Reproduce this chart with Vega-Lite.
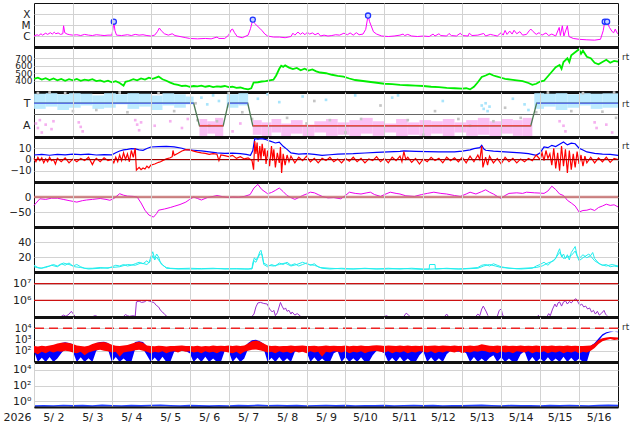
{
  "$schema": "https://vega.github.io/schema/vega-lite/v6.json",
  "description": "Space weather summary, 2026-05-02 to 2026-05-16",
  "padding": {"left": 2, "top": 2, "right": 0, "bottom": 0},
  "background": "white",
  "config": {
    "view": {"stroke": "#111", "strokeWidth": 1},
    "axis": {"gridColor": "#d2d2d2", "labelFont": "DejaVu Sans", "labelColor": "#222", "titleFont": "DejaVu Sans", "titleColor": "#222", "labelFontSize": 10, "labelOverlap": false}
  },
  "datasets": {
    "xray": [
      {"t":0.00,"v":1.0e-6},{"t":0.08,"v":1.3e-6},{"t":0.12,"v":1.1e-6},{"t":0.18,"v":1.6e-6},{"t":0.22,"v":1.2e-6},{"t":0.30,"v":1.8e-6},{"t":0.35,"v":1.4e-6},{"t":0.42,"v":2.0e-6},{"t":0.47,"v":1.5e-6},{"t":0.52,"v":2.2e-6},{"t":0.56,"v":1.6e-6},{"t":0.62,"v":1.9e-6},{"t":0.68,"v":1.4e-6},{"t":0.74,"v":1.6e-6},{"t":0.76,"v":8.5e-6},{"t":0.79,"v":2.0e-6},{"t":0.85,"v":1.5e-6},{"t":0.92,"v":1.3e-6},{"t":1.00,"v":1.2e-6},{"t":1.10,"v":1.3e-6},{"t":1.20,"v":1.1e-6},{"t":1.30,"v":1.4e-6},{"t":1.40,"v":1.2e-6},{"t":1.50,"v":1.1e-6},{"t":1.60,"v":1.3e-6},{"t":1.70,"v":1.2e-6},{"t":1.80,"v":1.1e-6},{"t":1.90,"v":1.2e-6},{"t":2.00,"v":1.2e-6},{"t":2.03,"v":5.0e-6},{"t":2.05,"v":2.0e-5},{"t":2.08,"v":3.0e-6},{"t":2.12,"v":1.2e-6},{"t":2.25,"v":1.1e-6},{"t":2.40,"v":1.3e-6},{"t":2.50,"v":1.1e-6},{"t":2.60,"v":1.4e-6},{"t":2.70,"v":1.2e-6},{"t":2.80,"v":1.3e-6},{"t":2.90,"v":1.1e-6},{"t":3.00,"v":1.0e-6},{"t":3.10,"v":1.2e-6},{"t":3.17,"v":2.5e-6},{"t":3.22,"v":5.3e-6},{"t":3.27,"v":3.0e-6},{"t":3.35,"v":1.6e-6},{"t":3.45,"v":1.2e-6},{"t":3.55,"v":1.6e-6},{"t":3.62,"v":1.1e-6},{"t":3.75,"v":9e-7},{"t":3.90,"v":7e-7},{"t":4.00,"v":6e-7},{"t":4.20,"v":5.5e-7},{"t":4.40,"v":6e-7},{"t":4.55,"v":5.5e-7},{"t":4.70,"v":8e-7},{"t":4.75,"v":6e-7},{"t":4.90,"v":6e-7},{"t":5.00,"v":1.2e-6},{"t":5.06,"v":3.5e-6},{"t":5.10,"v":4.3e-6},{"t":5.15,"v":2.0e-6},{"t":5.22,"v":9e-7},{"t":5.35,"v":7e-7},{"t":5.50,"v":1.2e-6},{"t":5.56,"v":4.6e-6},{"t":5.62,"v":3.1e-5},{"t":5.66,"v":1.5e-5},{"t":5.73,"v":8.5e-6},{"t":5.80,"v":5e-6},{"t":5.86,"v":3.0e-6},{"t":5.93,"v":1.5e-6},{"t":6.00,"v":1.0e-6},{"t":6.15,"v":8e-7},{"t":6.30,"v":8e-7},{"t":6.45,"v":7e-7},{"t":6.60,"v":9e-7},{"t":6.65,"v":1.8e-6},{"t":6.70,"v":1.2e-6},{"t":6.78,"v":2.3e-6},{"t":6.84,"v":1.4e-6},{"t":6.90,"v":2.0e-6},{"t":6.96,"v":1.3e-6},{"t":7.02,"v":2.2e-6},{"t":7.08,"v":1.5e-6},{"t":7.15,"v":1.9e-6},{"t":7.22,"v":1.3e-6},{"t":7.30,"v":1.8e-6},{"t":7.36,"v":1.0e-6},{"t":7.45,"v":1.2e-6},{"t":7.55,"v":1.0e-6},{"t":7.65,"v":1.1e-6},{"t":7.75,"v":1.3e-6},{"t":7.85,"v":1.2e-6},{"t":7.96,"v":1.8e-6},{"t":8.05,"v":1.3e-6},{"t":8.12,"v":1.9e-6},{"t":8.20,"v":1.2e-6},{"t":8.28,"v":2.0e-6},{"t":8.35,"v":1.3e-6},{"t":8.45,"v":1.5e-6},{"t":8.52,"v":4.0e-6},{"t":8.58,"v":7.2e-5},{"t":8.62,"v":2.0e-5},{"t":8.66,"v":8.5e-6},{"t":8.72,"v":2.4e-6},{"t":8.80,"v":1.5e-6},{"t":8.93,"v":1.0e-6},{"t":9.10,"v":9e-7},{"t":9.25,"v":1.0e-6},{"t":9.40,"v":1.2e-6},{"t":9.48,"v":1.5e-6},{"t":9.52,"v":1.1e-6},{"t":9.60,"v":1.4e-6},{"t":9.70,"v":1.0e-6},{"t":9.85,"v":9e-7},{"t":10.00,"v":1.0e-6},{"t":10.15,"v":9e-7},{"t":10.25,"v":1.5e-6},{"t":10.30,"v":1.0e-6},{"t":10.40,"v":1.6e-6},{"t":10.45,"v":1.1e-6},{"t":10.60,"v":1.0e-6},{"t":10.66,"v":1.7e-6},{"t":10.72,"v":1.1e-6},{"t":10.85,"v":1.0e-6},{"t":10.95,"v":1.8e-6},{"t":11.00,"v":1.1e-6},{"t":11.15,"v":1.0e-6},{"t":11.18,"v":1.8e-6},{"t":11.25,"v":1.1e-6},{"t":11.40,"v":1.2e-6},{"t":11.55,"v":1.7e-6},{"t":11.60,"v":1.0e-6},{"t":11.72,"v":1.4e-6},{"t":11.80,"v":1.2e-6},{"t":11.90,"v":1.0e-6},{"t":12.00,"v":2.0e-6},{"t":12.05,"v":1.2e-6},{"t":12.10,"v":3.2e-6},{"t":12.15,"v":1.4e-6},{"t":12.22,"v":2.8e-6},{"t":12.28,"v":1.5e-6},{"t":12.33,"v":3.3e-6},{"t":12.40,"v":1.6e-6},{"t":12.48,"v":2.5e-6},{"t":12.55,"v":1.2e-6},{"t":12.65,"v":1.4e-6},{"t":12.72,"v":3.0e-6},{"t":12.76,"v":4.3e-6},{"t":12.82,"v":2.5e-6},{"t":12.90,"v":1.4e-6},{"t":12.97,"v":2.0e-6},{"t":13.05,"v":1.2e-6},{"t":13.15,"v":1.9e-6},{"t":13.22,"v":1.1e-6},{"t":13.30,"v":1.5e-6},{"t":13.40,"v":1.0e-6},{"t":13.49,"v":6.0e-6},{"t":13.52,"v":1.1e-6},{"t":13.57,"v":8.5e-6},{"t":13.61,"v":1.0e-6},{"t":13.70,"v":8.5e-6},{"t":13.74,"v":9e-7},{"t":13.85,"v":6e-7},{"t":14.00,"v":5e-7},{"t":14.20,"v":4.5e-7},{"t":14.40,"v":4.2e-7},{"t":14.55,"v":5e-7},{"t":14.62,"v":3e-6},{"t":14.66,"v":2.0e-5},{"t":14.70,"v":1.5e-5},{"t":14.72,"v":2.0e-5},{"t":14.78,"v":6e-6},{"t":14.85,"v":2.5e-6},{"t":14.89,"v":2.0e-6},{"t":14.93,"v":4.3e-6},{"t":14.97,"v":2.0e-6},{"t":15.00,"v":1.6e-6}
    ],
    "flares": [{"t":2.05,"v":2.0e-5},{"t":5.62,"v":3.1e-5},{"t":8.58,"v":7.2e-5},{"t":14.66,"v":2.0e-5},{"t":14.72,"v":2.0e-5}],
    "speed": [
      {"t":0.0,"v":425},{"t":0.1,"v":440},{"t":0.2,"v":415},{"t":0.3,"v":435},{"t":0.4,"v":410},{"t":0.5,"v":430},{"t":0.6,"v":405},{"t":0.7,"v":425},{"t":0.8,"v":400},{"t":0.9,"v":420},{"t":1.0,"v":405},{"t":1.1,"v":425},{"t":1.2,"v":400},{"t":1.3,"v":415},{"t":1.4,"v":405},{"t":1.5,"v":420},{"t":1.6,"v":395},{"t":1.7,"v":405},{"t":1.8,"v":385},{"t":1.9,"v":400},{"t":2.0,"v":380},{"t":2.1,"v":395},{"t":2.2,"v":370},{"t":2.3,"v":335},{"t":2.35,"v":385},{"t":2.45,"v":400},{"t":2.55,"v":420},{"t":2.65,"v":405},{"t":2.75,"v":430},{"t":2.85,"v":415},{"t":2.95,"v":440},{"t":3.05,"v":425},{"t":3.15,"v":445},{"t":3.2,"v":455},{"t":3.3,"v":420},{"t":3.4,"v":400},{"t":3.5,"v":375},{"t":3.6,"v":355},{"t":3.7,"v":345},{"t":3.8,"v":330},{"t":3.9,"v":335},{"t":4.0,"v":320},{"t":4.1,"v":330},{"t":4.2,"v":325},{"t":4.3,"v":335},{"t":4.4,"v":320},{"t":4.5,"v":330},{"t":4.6,"v":315},{"t":4.7,"v":325},{"t":4.8,"v":320},{"t":4.9,"v":330},{"t":5.0,"v":315},{"t":5.1,"v":320},{"t":5.2,"v":305},{"t":5.3,"v":310},{"t":5.4,"v":295},{"t":5.5,"v":285},{"t":5.58,"v":300},{"t":5.64,"v":375},{"t":5.75,"v":380},{"t":5.85,"v":390},{"t":5.95,"v":395},{"t":6.05,"v":405},{"t":6.15,"v":415},{"t":6.22,"v":470},{"t":6.3,"v":560},{"t":6.35,"v":600},{"t":6.4,"v":585},{"t":6.45,"v":605},{"t":6.55,"v":575},{"t":6.65,"v":555},{"t":6.75,"v":570},{"t":6.85,"v":540},{"t":6.95,"v":560},{"t":7.05,"v":535},{"t":7.15,"v":550},{"t":7.25,"v":525},{"t":7.35,"v":510},{"t":7.5,"v":500},{"t":7.65,"v":480},{"t":7.8,"v":465},{"t":7.95,"v":455},{"t":8.1,"v":430},{"t":8.25,"v":410},{"t":8.4,"v":400},{"t":8.55,"v":390},{"t":8.7,"v":380},{"t":8.85,"v":370},{"t":9.0,"v":360},{"t":9.2,"v":355},{"t":9.4,"v":345},{"t":9.6,"v":340},{"t":9.8,"v":335},{"t":10.0,"v":330},{"t":10.2,"v":320},{"t":10.4,"v":315},{"t":10.6,"v":305},{"t":10.8,"v":300},{"t":11.0,"v":295},{"t":11.1,"v":300},{"t":11.2,"v":285},{"t":11.3,"v":320},{"t":11.4,"v":380},{"t":11.5,"v":450},{"t":11.6,"v":470},{"t":11.7,"v":495},{"t":11.8,"v":470},{"t":11.9,"v":455},{"t":12.0,"v":440},{"t":12.1,"v":425},{"t":12.25,"v":415},{"t":12.4,"v":405},{"t":12.55,"v":395},{"t":12.7,"v":370},{"t":12.8,"v":345},{"t":12.9,"v":360},{"t":13.0,"v":390},{"t":13.1,"v":400},{"t":13.2,"v":460},{"t":13.3,"v":520},{"t":13.4,"v":580},{"t":13.5,"v":610},{"t":13.55,"v":560},{"t":13.6,"v":650},{"t":13.7,"v":700},{"t":13.75,"v":650},{"t":13.8,"v":740},{"t":13.9,"v":780},{"t":14.0,"v":820},{"t":14.05,"v":760},{"t":14.1,"v":800},{"t":14.2,"v":720},{"t":14.3,"v":700},{"t":14.4,"v":640},{"t":14.5,"v":620},{"t":14.6,"v":650},{"t":14.7,"v":680},{"t":14.8,"v":640},{"t":14.9,"v":665},{"t":15.0,"v":655}
    ],
    "sector": [{"t":0,"v":1},{"t":4.1,"v":1},{"t":4.25,"v":-1},{"t":4.86,"v":-1},{"t":4.99,"v":1},{"t":5.49,"v":1},{"t":5.62,"v":-1},{"t":12.76,"v":-1},{"t":12.91,"v":1},{"t":15,"v":1}],
    "sectorSeg": [
      {"t":0,"v":1,"g":1,"c":"T"},{"t":4.1,"v":1,"g":1,"c":"T"},{"t":4.25,"v":-1,"g":2,"c":"A"},{"t":4.86,"v":-1,"g":2,"c":"A"},{"t":4.99,"v":1,"g":3,"c":"T"},{"t":5.49,"v":1,"g":3,"c":"T"},{"t":5.62,"v":-1,"g":4,"c":"A"},{"t":12.76,"v":-1,"g":4,"c":"A"},{"t":12.91,"v":1,"g":5,"c":"T"},{"t":15,"v":1,"g":5,"c":"T"}
    ],
    "taBands": [
      {"t":0.0,"t2":0.3,"lo":0.5,"hi":1.85,"c":"T"},{"t":0.3,"t2":0.6,"lo":0.7,"hi":1.9,"c":"T"},{"t":0.6,"t2":0.9,"lo":0.4,"hi":1.8,"c":"T"},{"t":0.9,"t2":1.2,"lo":0.6,"hi":1.9,"c":"T"},{"t":1.2,"t2":1.5,"lo":0.8,"hi":1.85,"c":"T"},{"t":1.5,"t2":1.8,"lo":0.5,"hi":1.7,"c":"T"},{"t":1.8,"t2":2.1,"lo":0.6,"hi":1.9,"c":"T"},{"t":2.1,"t2":2.4,"lo":0.9,"hi":1.8,"c":"T"},{"t":2.4,"t2":2.7,"lo":0.5,"hi":1.9,"c":"T"},{"t":2.7,"t2":3.0,"lo":0.7,"hi":1.85,"c":"T"},{"t":3.0,"t2":3.3,"lo":0.4,"hi":1.7,"c":"T"},{"t":3.3,"t2":3.6,"lo":0.8,"hi":1.9,"c":"T"},{"t":3.6,"t2":3.9,"lo":0.6,"hi":1.8,"c":"T"},{"t":3.9,"t2":4.1,"lo":0.9,"hi":1.6,"c":"T"},{"t":4.95,"t2":5.25,"lo":0.6,"hi":1.8,"c":"T"},{"t":5.25,"t2":5.5,"lo":0.8,"hi":1.9,"c":"T"},{"t":12.85,"t2":13.1,"lo":0.5,"hi":1.9,"c":"T"},{"t":13.1,"t2":13.4,"lo":0.7,"hi":1.85,"c":"T"},{"t":13.4,"t2":13.7,"lo":0.4,"hi":1.9,"c":"T"},{"t":13.7,"t2":14.0,"lo":0.6,"hi":1.8,"c":"T"},{"t":14.0,"t2":14.3,"lo":0.8,"hi":1.9,"c":"T"},{"t":14.3,"t2":14.6,"lo":0.5,"hi":1.85,"c":"T"},{"t":14.6,"t2":15.0,"lo":0.6,"hi":1.9,"c":"T"},
      {"t":4.25,"t2":4.45,"lo":-1.9,"hi":-0.4,"c":"A"},{"t":4.45,"t2":4.65,"lo":-1.7,"hi":-0.6,"c":"A"},{"t":4.65,"t2":4.86,"lo":-1.95,"hi":-0.3,"c":"A"},{"t":5.62,"t2":5.85,"lo":-1.8,"hi":-0.5,"c":"A"},{"t":5.85,"t2":6.1,"lo":-1.95,"hi":-0.7,"c":"A"},{"t":6.1,"t2":6.35,"lo":-1.6,"hi":-0.4,"c":"A"},{"t":6.35,"t2":6.6,"lo":-1.9,"hi":-0.8,"c":"A"},{"t":6.6,"t2":6.9,"lo":-1.7,"hi":-0.5,"c":"A"},{"t":6.9,"t2":7.2,"lo":-1.95,"hi":-0.9,"c":"A"},{"t":7.2,"t2":7.5,"lo":-1.6,"hi":-0.6,"c":"A"},{"t":7.5,"t2":7.8,"lo":-1.9,"hi":-0.4,"c":"A"},{"t":7.8,"t2":8.1,"lo":-1.8,"hi":-0.7,"c":"A"},{"t":8.1,"t2":8.4,"lo":-1.95,"hi":-0.5,"c":"A"},{"t":8.4,"t2":8.7,"lo":-1.7,"hi":-0.3,"c":"A"},{"t":8.7,"t2":9.0,"lo":-1.9,"hi":-0.6,"c":"A"},{"t":9.0,"t2":9.3,"lo":-1.6,"hi":-0.8,"c":"A"},{"t":9.3,"t2":9.6,"lo":-1.95,"hi":-0.4,"c":"A"},{"t":9.6,"t2":9.9,"lo":-1.8,"hi":-0.7,"c":"A"},{"t":9.9,"t2":10.2,"lo":-1.9,"hi":-0.5,"c":"A"},{"t":10.2,"t2":10.5,"lo":-1.7,"hi":-0.6,"c":"A"},{"t":10.5,"t2":10.8,"lo":-1.95,"hi":-0.4,"c":"A"},{"t":10.8,"t2":11.1,"lo":-1.6,"hi":-0.7,"c":"A"},{"t":11.1,"t2":11.4,"lo":-1.9,"hi":-0.5,"c":"A"},{"t":11.4,"t2":11.7,"lo":-1.8,"hi":-0.3,"c":"A"},{"t":11.7,"t2":12.0,"lo":-1.95,"hi":-0.6,"c":"A"},{"t":12.0,"t2":12.3,"lo":-1.7,"hi":-0.4,"c":"A"},{"t":12.3,"t2":12.55,"lo":-1.9,"hi":-0.5,"c":"A"},{"t":12.55,"t2":12.8,"lo":-1.95,"hi":-0.3,"c":"A"}
    ],
    "taPts": [
      {"t":0.05,"v":-0.8,"c":"A"},{"t":0.1,"v":-1.2,"c":"A"},{"t":0.15,"v":-0.5,"c":"A"},{"t":0.2,"v":-1.6,"c":"A"},{"t":0.3,"v":-0.9,"c":"A"},{"t":0.45,"v":-1.3,"c":"A"},{"t":0.5,"v":-0.6,"c":"A"},{"t":1.15,"v":-0.7,"c":"A"},{"t":1.2,"v":-1.1,"c":"A"},{"t":1.25,"v":-1.5,"c":"A"},{"t":2.6,"v":-0.5,"c":"A"},{"t":2.65,"v":-0.9,"c":"A"},{"t":2.7,"v":-1.4,"c":"A"},{"t":2.75,"v":-0.7,"c":"A"},{"t":3.1,"v":-1.0,"c":"A"},{"t":3.5,"v":-0.6,"c":"A"},{"t":3.8,"v":-1.2,"c":"A"},{"t":3.95,"v":-0.4,"c":"A"},{"t":5.1,"v":-1.5,"c":"A"},{"t":5.3,"v":-0.8,"c":"A"},{"t":13.5,"v":-0.6,"c":"A"},{"t":13.6,"v":-1.0,"c":"A"},{"t":13.65,"v":-1.5,"c":"A"},{"t":14.4,"v":-0.7,"c":"A"},{"t":14.45,"v":-1.2,"c":"A"},{"t":14.7,"v":-0.9,"c":"A"},{"t":14.85,"v":-1.6,"c":"A"},
      {"t":4.3,"v":1.5,"c":"T"},{"t":4.45,"v":0.9,"c":"T"},{"t":4.6,"v":1.7,"c":"T"},{"t":4.75,"v":1.2,"c":"T"},{"t":5.75,"v":1.4,"c":"T"},{"t":6.0,"v":1.8,"c":"T"},{"t":6.3,"v":1.1,"c":"T"},{"t":6.9,"v":1.6,"c":"T"},{"t":7.5,"v":1.3,"c":"T"},{"t":8.25,"v":1.7,"c":"T"},{"t":9.2,"v":1.5,"c":"T"},{"t":9.35,"v":1.7,"c":"T"},{"t":10.5,"v":1.2,"c":"T"},{"t":11.5,"v":0.8,"c":"T"},{"t":11.55,"v":0.5,"c":"T"},{"t":11.6,"v":1.0,"c":"T"},{"t":11.65,"v":0.3,"c":"T"},{"t":11.7,"v":0.7,"c":"T"},{"t":12.3,"v":1.4,"c":"T"},{"t":12.6,"v":0.9,"c":"T"},{"t":12.7,"v":0.4,"c":"T"},
      {"t":0.1,"v":1.9,"c":"G"},{"t":0.4,"v":1.95,"c":"G"},{"t":0.8,"v":1.9,"c":"G"},{"t":1.0,"v":0.3,"c":"G"},{"t":1.6,"v":0.4,"c":"G"},{"t":2.2,"v":1.95,"c":"G"},{"t":2.4,"v":0.2,"c":"G"},{"t":3.2,"v":1.9,"c":"G"},{"t":3.6,"v":0.3,"c":"G"},{"t":4.15,"v":1.0,"c":"G"},{"t":4.2,"v":-0.5,"c":"G"},{"t":4.5,"v":-1.0,"c":"G"},{"t":4.7,"v":-0.6,"c":"G"},{"t":5.0,"v":1.9,"c":"G"},{"t":5.35,"v":0.2,"c":"G"},{"t":5.6,"v":-0.4,"c":"G"},{"t":6.5,"v":-0.3,"c":"G"},{"t":7.0,"v":-0.8,"c":"G"},{"t":7.2,"v":1.2,"c":"G"},{"t":7.6,"v":-0.5,"c":"G"},{"t":8.0,"v":-1.6,"c":"G"},{"t":8.4,"v":-0.4,"c":"G"},{"t":8.9,"v":0.8,"c":"G"},{"t":9.6,"v":-0.5,"c":"G"},{"t":10.0,"v":-1.8,"c":"G"},{"t":10.3,"v":0.3,"c":"G"},{"t":10.9,"v":-0.4,"c":"G"},{"t":11.2,"v":-1.0,"c":"G"},{"t":11.8,"v":-0.6,"c":"G"},{"t":12.1,"v":0.6,"c":"G"},{"t":12.5,"v":-0.3,"c":"G"},{"t":12.9,"v":0.2,"c":"G"},{"t":13.2,"v":1.95,"c":"G"},{"t":13.8,"v":0.3,"c":"G"},{"t":14.1,"v":1.9,"c":"G"},{"t":14.6,"v":0.25,"c":"G"},{"t":14.9,"v":1.95,"c":"G"},{"t":14.95,"v":-0.3,"c":"G"}
    ],
    "bt": [
      {"t":0.0,"v":4},{"t":0.2,"v":4.5},{"t":0.4,"v":3.8},{"t":0.6,"v":4.6},{"t":0.8,"v":4.2},{"t":1.0,"v":4.8},{"t":1.2,"v":4.3},{"t":1.4,"v":4.7},{"t":1.6,"v":4.0},{"t":1.8,"v":4.4},{"t":2.0,"v":4.2},{"t":2.1,"v":6},{"t":2.2,"v":7.6},{"t":2.3,"v":8.5},{"t":2.4,"v":9},{"t":2.5,"v":9.7},{"t":2.6,"v":9.5},{"t":2.7,"v":8.5},{"t":2.8,"v":8.2},{"t":2.9,"v":9.8},{"t":3.0,"v":11.1},{"t":3.2,"v":11.5},{"t":3.4,"v":11.7},{"t":3.6,"v":11.2},{"t":3.8,"v":10},{"t":3.9,"v":8.8},{"t":4.1,"v":8.2},{"t":4.3,"v":7.6},{"t":4.5,"v":6.8},{"t":4.7,"v":5.9},{"t":4.9,"v":5.5},{"t":5.1,"v":5.6},{"t":5.3,"v":5.3},{"t":5.45,"v":4.5},{"t":5.56,"v":3.7},{"t":5.62,"v":8},{"t":5.67,"v":18.5},{"t":5.75,"v":18.0},{"t":5.85,"v":18.6},{"t":5.97,"v":17.6},{"t":6.05,"v":16.5},{"t":6.2,"v":14.7},{"t":6.3,"v":15.5},{"t":6.4,"v":11.7},{"t":6.5,"v":9},{"t":6.6,"v":5.9},{"t":6.8,"v":4.7},{"t":7.0,"v":5.2},{"t":7.2,"v":4.5},{"t":7.4,"v":3.7},{"t":7.6,"v":4.2},{"t":7.8,"v":4.8},{"t":8.0,"v":5.0},{"t":8.2,"v":5.2},{"t":8.5,"v":5.8},{"t":8.8,"v":6.3},{"t":9.1,"v":6.8},{"t":9.4,"v":7.3},{"t":9.5,"v":7.6},{"t":9.8,"v":7.2},{"t":10.1,"v":7.0},{"t":10.4,"v":6.8},{"t":10.8,"v":6.7},{"t":11.0,"v":7.5},{"t":11.2,"v":8.5},{"t":11.3,"v":9.7},{"t":11.45,"v":10.5},{"t":11.5,"v":12.6},{"t":11.55,"v":9.5},{"t":11.6,"v":8.2},{"t":11.8,"v":7.5},{"t":12.0,"v":7.0},{"t":12.2,"v":6.5},{"t":12.5,"v":5.9},{"t":12.7,"v":5.2},{"t":12.9,"v":3.7},{"t":13.0,"v":6},{"t":13.1,"v":11.1},{"t":13.2,"v":10.5},{"t":13.3,"v":12.6},{"t":13.4,"v":11.5},{"t":13.5,"v":13.5},{"t":13.6,"v":15.5},{"t":13.7,"v":13},{"t":13.8,"v":14.5},{"t":13.9,"v":14},{"t":14.0,"v":10},{"t":14.1,"v":8.5},{"t":14.2,"v":6.7},{"t":14.4,"v":5.5},{"t":14.6,"v":4.7},{"t":14.8,"v":4.5},{"t":15.0,"v":3.7}
    ],
    "bz": [
      {"t":0.0,"v":1},{"t":0.05,"v":-2},{"t":0.1,"v":2},{"t":0.15,"v":-1},{"t":0.2,"v":1.5},{"t":0.25,"v":-3},{"t":0.3,"v":0.5},{"t":0.35,"v":-2},{"t":0.4,"v":2},{"t":0.45,"v":-1},{"t":0.5,"v":0},{"t":0.55,"v":-4},{"t":0.6,"v":1},{"t":0.7,"v":-2},{"t":0.8,"v":1.5},{"t":0.9,"v":-3},{"t":1.0,"v":0.5},{"t":1.1,"v":-2},{"t":1.2,"v":1},{"t":1.3,"v":-1},{"t":1.4,"v":2},{"t":1.5,"v":-4.5},{"t":1.55,"v":-1},{"t":1.6,"v":1},{"t":1.7,"v":-2},{"t":1.8,"v":1.5},{"t":1.9,"v":-1},{"t":2.0,"v":0},{"t":2.05,"v":-3},{"t":2.1,"v":2},{"t":2.15,"v":-2},{"t":2.2,"v":4},{"t":2.25,"v":-1},{"t":2.3,"v":6},{"t":2.35,"v":0},{"t":2.4,"v":5},{"t":2.45,"v":-2},{"t":2.5,"v":8},{"t":2.55,"v":2},{"t":2.6,"v":10},{"t":2.63,"v":-9.5},{"t":2.7,"v":-7},{"t":2.75,"v":-9},{"t":2.8,"v":-7.5},{"t":2.85,"v":-8.5},{"t":2.9,"v":-6},{"t":2.95,"v":-7.5},{"t":3.0,"v":-5},{"t":3.1,"v":-4},{"t":3.2,"v":-2.5},{"t":3.25,"v":-2},{"t":3.3,"v":-1},{"t":3.4,"v":0.5},{"t":3.5,"v":1.5},{"t":3.55,"v":2.5},{"t":3.57,"v":8},{"t":3.6,"v":3.7},{"t":3.7,"v":5.5},{"t":3.8,"v":7.5},{"t":3.9,"v":8.8},{"t":4.0,"v":8.5},{"t":4.1,"v":7.5},{"t":4.2,"v":6.5},{"t":4.3,"v":5.9},{"t":4.4,"v":5.5},{"t":4.5,"v":4.5},{"t":4.6,"v":5.2},{"t":4.7,"v":4.7},{"t":4.75,"v":-1},{"t":4.8,"v":4},{"t":4.9,"v":3.5},{"t":5.0,"v":2.5},{"t":5.1,"v":3.7},{"t":5.2,"v":1},{"t":5.3,"v":2.5},{"t":5.4,"v":0.5},{"t":5.5,"v":1.5},{"t":5.6,"v":-1},{"t":5.64,"v":-9},{"t":5.67,"v":16.5},{"t":5.7,"v":5},{"t":5.73,"v":15},{"t":5.76,"v":-2},{"t":5.8,"v":12},{"t":5.83,"v":0},{"t":5.86,"v":14},{"t":5.9,"v":3},{"t":5.93,"v":10},{"t":5.96,"v":-4},{"t":6.0,"v":8},{"t":6.05,"v":-6},{"t":6.1,"v":12},{"t":6.13,"v":-1},{"t":6.16,"v":9},{"t":6.2,"v":-7},{"t":6.25,"v":6},{"t":6.3,"v":-3},{"t":6.33,"v":11},{"t":6.36,"v":-12},{"t":6.4,"v":5},{"t":6.45,"v":-5},{"t":6.5,"v":4},{"t":6.55,"v":-2},{"t":6.6,"v":3},{"t":6.7,"v":-3},{"t":6.8,"v":2},{"t":6.9,"v":-1},{"t":7.0,"v":3},{"t":7.1,"v":-2},{"t":7.2,"v":1},{"t":7.3,"v":-3},{"t":7.4,"v":1},{"t":7.5,"v":-1},{"t":7.6,"v":2},{"t":7.7,"v":-2},{"t":7.8,"v":0.5},{"t":7.9,"v":-3},{"t":8.0,"v":1},{"t":8.1,"v":-1.5},{"t":8.2,"v":2},{"t":8.3,"v":-2},{"t":8.4,"v":1},{"t":8.5,"v":-3},{"t":8.6,"v":0.5},{"t":8.7,"v":-1},{"t":8.8,"v":2.5},{"t":8.9,"v":-2},{"t":9.0,"v":1},{"t":9.1,"v":-3},{"t":9.2,"v":2},{"t":9.3,"v":-1},{"t":9.4,"v":3},{"t":9.45,"v":-2},{"t":9.5,"v":7},{"t":9.55,"v":0},{"t":9.6,"v":2},{"t":9.7,"v":-2.5},{"t":9.8,"v":1},{"t":9.9,"v":-4},{"t":10.0,"v":0.5},{"t":10.1,"v":-2},{"t":10.2,"v":2},{"t":10.3,"v":-1},{"t":10.4,"v":1},{"t":10.5,"v":-3},{"t":10.6,"v":2},{"t":10.7,"v":-1},{"t":10.8,"v":1.5},{"t":10.9,"v":-2},{"t":11.0,"v":2},{"t":11.1,"v":-3},{"t":11.2,"v":3},{"t":11.3,"v":-2},{"t":11.4,"v":4},{"t":11.45,"v":0},{"t":11.5,"v":12},{"t":11.53,"v":-7},{"t":11.6,"v":2},{"t":11.65,"v":-5},{"t":11.7,"v":3},{"t":11.8,"v":-3},{"t":11.9,"v":1},{"t":12.0,"v":-4},{"t":12.1,"v":2},{"t":12.2,"v":-2},{"t":12.3,"v":1},{"t":12.4,"v":-3},{"t":12.5,"v":0.5},{"t":12.6,"v":-2},{"t":12.7,"v":1},{"t":12.8,"v":-1},{"t":12.9,"v":4},{"t":13.0,"v":0},{"t":13.05,"v":6},{"t":13.1,"v":-1},{"t":13.15,"v":8},{"t":13.2,"v":1},{"t":13.25,"v":5},{"t":13.3,"v":-5},{"t":13.35,"v":10},{"t":13.4,"v":-8},{"t":13.45,"v":6},{"t":13.5,"v":-10},{"t":13.55,"v":12},{"t":13.6,"v":-6},{"t":13.65,"v":9},{"t":13.7,"v":-12},{"t":13.75,"v":8},{"t":13.8,"v":-9},{"t":13.85,"v":5},{"t":13.9,"v":-7},{"t":13.95,"v":7},{"t":14.0,"v":-4},{"t":14.05,"v":4},{"t":14.1,"v":-6},{"t":14.15,"v":3},{"t":14.2,"v":-3},{"t":14.3,"v":2},{"t":14.4,"v":-3},{"t":14.5,"v":1.5},{"t":14.6,"v":-2},{"t":14.7,"v":2},{"t":14.8,"v":-2.5},{"t":14.9,"v":1},{"t":15.0,"v":0}
    ],
    "dst": [
      {"t":0.0,"v":-28},{"t":0.15,"v":-6},{"t":0.3,"v":-8},{"t":0.45,"v":-4},{"t":0.6,"v":-4},{"t":0.75,"v":-8},{"t":0.9,"v":-12},{"t":1.1,"v":-17},{"t":1.25,"v":-12},{"t":1.35,"v":-10},{"t":1.5,"v":-8},{"t":1.7,"v":-5},{"t":1.85,"v":-8},{"t":1.95,"v":-11},{"t":2.05,"v":-5},{"t":2.2,"v":11},{"t":2.3,"v":6},{"t":2.4,"v":3},{"t":2.55,"v":2},{"t":2.65,"v":0},{"t":2.75,"v":-20},{"t":2.85,"v":-44},{"t":2.95,"v":-60},{"t":3.07,"v":-67},{"t":3.15,"v":-55},{"t":3.2,"v":-44},{"t":3.35,"v":-40},{"t":3.5,"v":-35},{"t":3.6,"v":-31},{"t":3.75,"v":-25},{"t":3.9,"v":-17},{"t":4.0,"v":-8},{"t":4.1,"v":0},{"t":4.2,"v":-5},{"t":4.3,"v":-10},{"t":4.45,"v":-2},{"t":4.6,"v":2},{"t":4.7,"v":5},{"t":4.85,"v":1},{"t":5.0,"v":-2},{"t":5.1,"v":0},{"t":5.25,"v":-1},{"t":5.4,"v":2},{"t":5.55,"v":8},{"t":5.65,"v":30},{"t":5.75,"v":42},{"t":5.85,"v":25},{"t":6.0,"v":11},{"t":6.1,"v":15},{"t":6.2,"v":22},{"t":6.3,"v":30},{"t":6.4,"v":18},{"t":6.5,"v":5},{"t":6.6,"v":-2},{"t":6.7,"v":-8},{"t":6.8,"v":-2},{"t":6.9,"v":5},{"t":7.0,"v":10},{"t":7.1,"v":16},{"t":7.2,"v":14},{"t":7.3,"v":8},{"t":7.4,"v":2},{"t":7.55,"v":-3},{"t":7.7,"v":-2},{"t":7.88,"v":-6},{"t":8.0,"v":5},{"t":8.1,"v":16},{"t":8.25,"v":12},{"t":8.4,"v":10},{"t":8.55,"v":14},{"t":8.64,"v":16},{"t":8.75,"v":8},{"t":8.9,"v":2},{"t":9.0,"v":8},{"t":9.15,"v":16},{"t":9.3,"v":12},{"t":9.4,"v":10},{"t":9.55,"v":4},{"t":9.77,"v":2},{"t":9.95,"v":8},{"t":10.1,"v":12},{"t":10.27,"v":16},{"t":10.45,"v":12},{"t":10.6,"v":10},{"t":10.8,"v":5},{"t":10.95,"v":2},{"t":11.1,"v":10},{"t":11.2,"v":16},{"t":11.35,"v":10},{"t":11.5,"v":18},{"t":11.6,"v":24},{"t":11.7,"v":16},{"t":11.8,"v":10},{"t":11.9,"v":2},{"t":12.0,"v":-5},{"t":12.1,"v":5},{"t":12.2,"v":12},{"t":12.4,"v":14},{"t":12.55,"v":12},{"t":12.65,"v":16},{"t":12.85,"v":14},{"t":13.0,"v":13},{"t":13.1,"v":12},{"t":13.2,"v":20},{"t":13.3,"v":36},{"t":13.4,"v":25},{"t":13.5,"v":10},{"t":13.6,"v":5},{"t":13.7,"v":-11},{"t":13.8,"v":-20},{"t":13.9,"v":-30},{"t":14.0,"v":-50},{"t":14.1,"v":-45},{"t":14.2,"v":-44},{"t":14.3,"v":-40},{"t":14.4,"v":-45},{"t":14.5,"v":-35},{"t":14.6,"v":-30},{"t":14.7,"v":-24},{"t":14.8,"v":-28},{"t":14.9,"v":-26},{"t":15.0,"v":-33}
    ],
    "cyanA": [
      {"t":0.0,"v":9},{"t":0.1,"v":6},{"t":0.2,"v":5},{"t":0.3,"v":7},{"t":0.4,"v":8},{"t":0.5,"v":10},{"t":0.6,"v":8},{"t":0.7,"v":11},{"t":0.8,"v":9},{"t":0.9,"v":12},{"t":1.0,"v":8},{"t":1.1,"v":10},{"t":1.2,"v":7},{"t":1.3,"v":5},{"t":1.5,"v":5},{"t":1.7,"v":6},{"t":1.9,"v":5},{"t":2.0,"v":7},{"t":2.1,"v":9},{"t":2.2,"v":8},{"t":2.3,"v":10},{"t":2.4,"v":8},{"t":2.5,"v":9},{"t":2.6,"v":11},{"t":2.7,"v":13},{"t":2.8,"v":11},{"t":2.9,"v":15},{"t":2.95,"v":12},{"t":3.0,"v":20},{"t":3.05,"v":27},{"t":3.1,"v":18},{"t":3.15,"v":24},{"t":3.2,"v":20},{"t":3.25,"v":12},{"t":3.3,"v":9},{"t":3.4,"v":6},{"t":3.5,"v":5},{"t":3.7,"v":4.5},{"t":4.0,"v":5},{"t":4.3,"v":4.5},{"t":4.6,"v":5},{"t":4.9,"v":4},{"t":5.2,"v":4.5},{"t":5.5,"v":4},{"t":5.6,"v":5},{"t":5.62,"v":12},{"t":5.66,"v":19},{"t":5.7,"v":16},{"t":5.75,"v":20},{"t":5.8,"v":27},{"t":5.83,"v":29},{"t":5.87,"v":20},{"t":5.9,"v":10},{"t":6.0,"v":7},{"t":6.1,"v":10},{"t":6.2,"v":8},{"t":6.3,"v":12},{"t":6.4,"v":10},{"t":6.5,"v":13},{"t":6.6,"v":9},{"t":6.7,"v":11},{"t":6.8,"v":8},{"t":6.9,"v":10},{"t":7.0,"v":12},{"t":7.1,"v":9},{"t":7.2,"v":11},{"t":7.3,"v":7},{"t":7.4,"v":5},{"t":7.6,"v":4},{"t":7.9,"v":5},{"t":8.2,"v":4},{"t":8.5,"v":5},{"t":8.8,"v":4},{"t":9.1,"v":5},{"t":9.4,"v":4},{"t":9.7,"v":5},{"t":10.0,"v":4},{"t":10.15,"v":4},{"t":10.16,"v":10},{"t":10.3,"v":10},{"t":10.31,"v":4},{"t":10.6,"v":5},{"t":10.9,"v":4},{"t":11.2,"v":5},{"t":11.4,"v":6},{"t":11.5,"v":9},{"t":11.6,"v":10},{"t":11.7,"v":8},{"t":11.8,"v":11},{"t":11.9,"v":9},{"t":12.0,"v":7},{"t":12.2,"v":5},{"t":12.5,"v":4},{"t":12.8,"v":5},{"t":12.9,"v":8},{"t":13.0,"v":10},{"t":13.1,"v":13},{"t":13.2,"v":9},{"t":13.3,"v":14},{"t":13.4,"v":18},{"t":13.45,"v":25},{"t":13.5,"v":31},{"t":13.55,"v":20},{"t":13.6,"v":24},{"t":13.65,"v":18},{"t":13.7,"v":23},{"t":13.75,"v":16},{"t":13.8,"v":26},{"t":13.85,"v":30},{"t":13.9,"v":34},{"t":13.95,"v":22},{"t":14.0,"v":18},{"t":14.1,"v":23},{"t":14.2,"v":19},{"t":14.3,"v":22},{"t":14.35,"v":26},{"t":14.4,"v":18},{"t":14.5,"v":12},{"t":14.6,"v":9},{"t":14.7,"v":10},{"t":14.8,"v":7},{"t":14.9,"v":8},{"t":15.0,"v":7}
    ],
    "cyanB": [
      {"t":0.0,"v":7},{"t":0.15,"v":5},{"t":0.3,"v":6},{"t":0.45,"v":9},{"t":0.6,"v":7},{"t":0.75,"v":12},{"t":0.9,"v":10},{"t":1.05,"v":7},{"t":1.2,"v":6},{"t":1.4,"v":4},{"t":1.7,"v":5},{"t":2.0,"v":6},{"t":2.2,"v":7},{"t":2.4,"v":10},{"t":2.6,"v":9},{"t":2.75,"v":12},{"t":2.9,"v":10},{"t":3.0,"v":15},{"t":3.05,"v":22},{"t":3.1,"v":16},{"t":3.15,"v":20},{"t":3.2,"v":16},{"t":3.3,"v":10},{"t":3.4,"v":5},{"t":3.7,"v":4},{"t":4.2,"v":4},{"t":4.8,"v":4.5},{"t":5.4,"v":4},{"t":5.6,"v":4},{"t":5.65,"v":15},{"t":5.7,"v":13},{"t":5.8,"v":24},{"t":5.85,"v":24},{"t":5.9,"v":12},{"t":6.0,"v":9},{"t":6.15,"v":8},{"t":6.3,"v":10},{"t":6.45,"v":12},{"t":6.6,"v":8},{"t":6.75,"v":10},{"t":6.9,"v":13},{"t":7.05,"v":10},{"t":7.2,"v":9},{"t":7.35,"v":6},{"t":7.6,"v":5},{"t":8.0,"v":4},{"t":8.5,"v":4.5},{"t":9.0,"v":4},{"t":9.5,"v":4.5},{"t":10.0,"v":3.5},{"t":10.5,"v":4.5},{"t":11.0,"v":4},{"t":11.4,"v":5},{"t":11.55,"v":8},{"t":11.7,"v":10},{"t":11.85,"v":8},{"t":12.0,"v":6},{"t":12.4,"v":4.5},{"t":12.9,"v":6},{"t":13.05,"v":8},{"t":13.2,"v":12},{"t":13.35,"v":15},{"t":13.5,"v":26},{"t":13.6,"v":18},{"t":13.7,"v":20},{"t":13.8,"v":22},{"t":13.9,"v":28},{"t":14.0,"v":15},{"t":14.1,"v":19},{"t":14.25,"v":24},{"t":14.4,"v":15},{"t":14.55,"v":10},{"t":14.7,"v":8},{"t":14.85,"v":10},{"t":15.0,"v":8}
    ],
    "proton": [
      {"t":0.7,"v":1.1e5},{"t":0.76,"v":1.3e5},{"t":0.82,"v":1.1e5},{"t":0.9,"v":1.5e5},{"t":0.96,"v":2.2e5},{"t":1.0,"v":1.6e5},{"t":1.06,"v":1.05e5},{"t":1.1,"v":null},
      {"t":1.52,"v":1.1e5},{"t":1.57,"v":1.2e5},{"t":1.62,"v":1.1e5},{"t":1.65,"v":null},
      {"t":2.3,"v":1.1e5},{"t":2.35,"v":1.4e5},{"t":2.4,"v":1.2e5},{"t":2.45,"v":1.1e5},{"t":2.55,"v":1.2e5},{"t":2.6,"v":1.1e5},{"t":2.63,"v":8e5},{"t":2.7,"v":9e5},{"t":2.76,"v":7.5e5},{"t":2.83,"v":8e5},{"t":2.9,"v":1.0e6},{"t":2.96,"v":9e5},{"t":3.02,"v":8e5},{"t":3.08,"v":7.5e5},{"t":3.14,"v":5e5},{"t":3.2,"v":4e5},{"t":3.25,"v":2.5e5},{"t":3.3,"v":2e5},{"t":3.36,"v":1.4e5},{"t":3.42,"v":1.05e5},{"t":3.45,"v":null},
      {"t":5.6,"v":1.1e5},{"t":5.65,"v":1.5e5},{"t":5.7,"v":4e5},{"t":5.75,"v":7e5},{"t":5.82,"v":7.5e5},{"t":5.9,"v":6.5e5},{"t":5.99,"v":6e5},{"t":6.05,"v":3e5},{"t":6.12,"v":2e5},{"t":6.16,"v":2.5e5},{"t":6.2,"v":1.2e5},{"t":6.25,"v":1.8e5},{"t":6.33,"v":7.5e5},{"t":6.37,"v":4.5e5},{"t":6.42,"v":2.8e5},{"t":6.46,"v":3.5e5},{"t":6.5,"v":2.2e5},{"t":6.55,"v":2.5e5},{"t":6.6,"v":1.5e5},{"t":6.63,"v":2e5},{"t":6.7,"v":1.3e5},{"t":6.76,"v":1.6e5},{"t":6.85,"v":1.1e5},{"t":6.9,"v":null},
      {"t":9.0,"v":1.05e5},{"t":9.05,"v":1.2e5},{"t":9.1,"v":1.05e5},{"t":9.12,"v":null},
      {"t":9.5,"v":1.1e5},{"t":9.56,"v":1.7e5},{"t":9.62,"v":1.3e5},{"t":9.66,"v":1.05e5},{"t":9.7,"v":null},
      {"t":10.55,"v":1.1e5},{"t":10.6,"v":1.5e5},{"t":10.64,"v":1.1e5},{"t":10.7,"v":null},
      {"t":11.35,"v":1.1e5},{"t":11.4,"v":1.5e5},{"t":11.45,"v":1.2e5},{"t":11.5,"v":3e5},{"t":11.54,"v":4.5e5},{"t":11.58,"v":3e5},{"t":11.62,"v":2e5},{"t":11.66,"v":1.2e5},{"t":11.7,"v":null},
      {"t":11.9,"v":1.1e5},{"t":11.95,"v":2.5e5},{"t":12.0,"v":3e5},{"t":12.03,"v":1.5e5},{"t":12.06,"v":1.05e5},{"t":12.1,"v":null},
      {"t":12.93,"v":1.1e5},{"t":12.97,"v":1.3e5},{"t":13.0,"v":null},
      {"t":13.18,"v":1.1e5},{"t":13.22,"v":1.6e5},{"t":13.26,"v":1.2e5},{"t":13.32,"v":3e5},{"t":13.38,"v":6e5},{"t":13.42,"v":4e5},{"t":13.46,"v":7e5},{"t":13.5,"v":8e5},{"t":13.55,"v":4.5e5},{"t":13.6,"v":8e5},{"t":13.65,"v":9.5e5},{"t":13.7,"v":6e5},{"t":13.75,"v":8.5e5},{"t":13.8,"v":7e5},{"t":13.86,"v":1.0e6},{"t":13.92,"v":1.25e6},{"t":13.97,"v":8e5},{"t":14.02,"v":5e5},{"t":14.07,"v":6e5},{"t":14.12,"v":4e5},{"t":14.17,"v":4.5e5},{"t":14.22,"v":3e5},{"t":14.27,"v":3.5e5},{"t":14.32,"v":2e5},{"t":14.37,"v":2.5e5},{"t":14.42,"v":1.5e5},{"t":14.47,"v":2.2e5},{"t":14.52,"v":1.3e5},{"t":14.58,"v":1.7e5},{"t":14.64,"v":2.5e5},{"t":14.68,"v":1.5e5},{"t":14.72,"v":1.2e5},{"t":14.76,"v":null}
    ],
    "flux": [
      {"t":0.0,"rl":70,"rh":260,"bl":90,"bh":220},{"t":0.1,"rl":50,"rh":240,"bl":10,"bh":150},{"t":0.2,"rl":80,"rh":280,"bl":24,"bh":120},{"t":0.3,"rl":60,"rh":250,"bl":10,"bh":140},{"t":0.4,"rl":90,"rh":300,"bl":28,"bh":110},{"t":0.5,"rl":70,"rh":350,"bl":10,"bh":160},{"t":0.6,"rl":90,"rh":450,"bl":20,"bh":200},{"t":0.7,"rl":80,"rh":520,"bl":60,"bh":480},{"t":0.8,"rl":100,"rh":550,"bl":150,"bh":560},{"t":0.9,"rl":90,"rh":480,"bl":120,"bh":500},{"t":1.0,"rl":70,"rh":400,"bl":80,"bh":380},{"t":1.1,"rl":60,"rh":300,"bl":10,"bh":150},{"t":1.2,"rl":80,"rh":260,"bl":26,"bh":120},{"t":1.3,"rl":40,"rh":240,"bl":10,"bh":140},{"t":1.4,"rl":70,"rh":280,"bl":22,"bh":130},{"t":1.5,"rl":90,"rh":400,"bl":10,"bh":200},{"t":1.6,"rl":110,"rh":520,"bl":100,"bh":500},{"t":1.7,"rl":120,"rh":580,"bl":150,"bh":600},{"t":1.8,"rl":100,"rh":600,"bl":160,"bh":620},{"t":1.9,"rl":90,"rh":500,"bl":130,"bh":480},{"t":2.0,"rl":70,"rh":350,"bl":10,"bh":200},{"t":2.1,"rl":80,"rh":280,"bl":28,"bh":130},{"t":2.2,"rl":30,"rh":260,"bl":10,"bh":120},{"t":2.3,"rl":70,"rh":300,"bl":20,"bh":150},{"t":2.4,"rl":80,"rh":320,"bl":10,"bh":140},{"t":2.5,"rl":90,"rh":420,"bl":10,"bh":200},{"t":2.6,"rl":110,"rh":550,"bl":150,"bh":600},{"t":2.7,"rl":120,"rh":620,"bl":200,"bh":700},{"t":2.8,"rl":100,"rh":520,"bl":150,"bh":600},{"t":2.9,"rl":80,"rh":300,"bl":40,"bh":250},{"t":3.0,"rl":60,"rh":270,"bl":10,"bh":130},{"t":3.1,"rl":80,"rh":250,"bl":25,"bh":120},{"t":3.2,"rl":70,"rh":280,"bl":10,"bh":140},{"t":3.3,"rl":90,"rh":260,"bl":30,"bh":110},{"t":3.4,"rl":60,"rh":240,"bl":10,"bh":130},{"t":3.5,"rl":80,"rh":270,"bl":10,"bh":150},{"t":3.6,"rl":90,"rh":260,"bl":80,"bh":230},{"t":3.7,"rl":70,"rh":280,"bl":90,"bh":250},{"t":3.8,"rl":100,"rh":300,"bl":100,"bh":260},{"t":3.9,"rl":80,"rh":260,"bl":90,"bh":240},{"t":4.0,"rl":90,"rh":270,"bl":60,"bh":250},{"t":4.1,"rl":70,"rh":250,"bl":10,"bh":150},{"t":4.2,"rl":80,"rh":280,"bl":24,"bh":120},{"t":4.3,"rl":60,"rh":240,"bl":10,"bh":130},{"t":4.4,"rl":90,"rh":270,"bl":30,"bh":110},{"t":4.5,"rl":70,"rh":250,"bl":10,"bh":140},{"t":4.6,"rl":80,"rh":290,"bl":20,"bh":120},{"t":4.7,"rl":60,"rh":260,"bl":10,"bh":130},{"t":4.8,"rl":90,"rh":280,"bl":10,"bh":150},{"t":4.9,"rl":80,"rh":270,"bl":100,"bh":250},{"t":5.0,"rl":70,"rh":300,"bl":90,"bh":260},{"t":5.1,"rl":60,"rh":260,"bl":10,"bh":140},{"t":5.2,"rl":80,"rh":290,"bl":26,"bh":120},{"t":5.3,"rl":50,"rh":270,"bl":10,"bh":150},{"t":5.4,"rl":80,"rh":300,"bl":20,"bh":200},{"t":5.5,"rl":100,"rh":450,"bl":150,"bh":500},{"t":5.6,"rl":120,"rh":700,"bl":300,"bh":850},{"t":5.7,"rl":130,"rh":800,"bl":400,"bh":950},{"t":5.8,"rl":110,"rh":650,"bl":300,"bh":700},{"t":5.9,"rl":90,"rh":450,"bl":150,"bh":420},{"t":6.0,"rl":70,"rh":300,"bl":10,"bh":200},{"t":6.1,"rl":80,"rh":260,"bl":24,"bh":130},{"t":6.2,"rl":60,"rh":280,"bl":10,"bh":120},{"t":6.3,"rl":90,"rh":250,"bl":28,"bh":140},{"t":6.4,"rl":70,"rh":270,"bl":10,"bh":110},{"t":6.5,"rl":80,"rh":260,"bl":22,"bh":130},{"t":6.6,"rl":60,"rh":290,"bl":10,"bh":150},{"t":6.7,"rl":90,"rh":260,"bl":80,"bh":240},{"t":6.8,"rl":70,"rh":280,"bl":100,"bh":250},{"t":6.9,"rl":80,"rh":300,"bl":90,"bh":260},{"t":7.0,"rl":60,"rh":270,"bl":80,"bh":240},{"t":7.1,"rl":90,"rh":260,"bl":10,"bh":150},{"t":7.2,"rl":70,"rh":280,"bl":26,"bh":120},{"t":7.3,"rl":80,"rh":250,"bl":10,"bh":140},{"t":7.4,"rl":30,"rh":270,"bl":20,"bh":130},{"t":7.5,"rl":80,"rh":290,"bl":10,"bh":120},{"t":7.6,"rl":70,"rh":260,"bl":10,"bh":150},{"t":7.7,"rl":90,"rh":280,"bl":60,"bh":230},{"t":7.8,"rl":80,"rh":270,"bl":90,"bh":250},{"t":7.9,"rl":70,"rh":260,"bl":10,"bh":140},{"t":8.0,"rl":90,"rh":290,"bl":28,"bh":120},{"t":8.1,"rl":60,"rh":250,"bl":10,"bh":150},{"t":8.2,"rl":80,"rh":280,"bl":22,"bh":110},{"t":8.3,"rl":70,"rh":260,"bl":10,"bh":140},{"t":8.4,"rl":90,"rh":300,"bl":26,"bh":120},{"t":8.5,"rl":60,"rh":270,"bl":10,"bh":130},{"t":8.6,"rl":80,"rh":260,"bl":10,"bh":150},{"t":8.7,"rl":90,"rh":300,"bl":40,"bh":250},{"t":8.8,"rl":100,"rh":310,"bl":100,"bh":270},{"t":8.9,"rl":80,"rh":290,"bl":90,"bh":250},{"t":9.0,"rl":70,"rh":270,"bl":60,"bh":240},{"t":9.1,"rl":90,"rh":300,"bl":10,"bh":140},{"t":9.2,"rl":60,"rh":280,"bl":24,"bh":120},{"t":9.3,"rl":80,"rh":260,"bl":10,"bh":150},{"t":9.4,"rl":70,"rh":290,"bl":30,"bh":110},{"t":9.5,"rl":90,"rh":270,"bl":10,"bh":140},{"t":9.6,"rl":60,"rh":300,"bl":20,"bh":120},{"t":9.7,"rl":80,"rh":260,"bl":10,"bh":130},{"t":9.8,"rl":70,"rh":280,"bl":10,"bh":150},{"t":9.9,"rl":90,"rh":270,"bl":40,"bh":230},{"t":10.0,"rl":80,"rh":290,"bl":90,"bh":250},{"t":10.1,"rl":70,"rh":260,"bl":10,"bh":150},{"t":10.2,"rl":90,"rh":280,"bl":26,"bh":120},{"t":10.3,"rl":60,"rh":300,"bl":10,"bh":140},{"t":10.4,"rl":80,"rh":260,"bl":22,"bh":110},{"t":10.5,"rl":70,"rh":290,"bl":10,"bh":130},{"t":10.6,"rl":90,"rh":280,"bl":50,"bh":240},{"t":10.7,"rl":80,"rh":270,"bl":100,"bh":250},{"t":10.8,"rl":70,"rh":290,"bl":90,"bh":260},{"t":10.9,"rl":90,"rh":260,"bl":80,"bh":240},{"t":11.0,"rl":60,"rh":280,"bl":100,"bh":250},{"t":11.1,"rl":80,"rh":270,"bl":60,"bh":230},{"t":11.2,"rl":70,"rh":290,"bl":10,"bh":140},{"t":11.3,"rl":90,"rh":260,"bl":28,"bh":120},{"t":11.4,"rl":80,"rh":300,"bl":10,"bh":150},{"t":11.5,"rl":100,"rh":380,"bl":20,"bh":200},{"t":11.6,"rl":90,"rh":320,"bl":10,"bh":150},{"t":11.7,"rl":70,"rh":280,"bl":24,"bh":130},{"t":11.8,"rl":80,"rh":260,"bl":40,"bh":220},{"t":11.9,"rl":60,"rh":290,"bl":10,"bh":140},{"t":12.0,"rl":90,"rh":270,"bl":26,"bh":120},{"t":12.1,"rl":70,"rh":300,"bl":10,"bh":150},{"t":12.2,"rl":80,"rh":260,"bl":20,"bh":110},{"t":12.3,"rl":60,"rh":280,"bl":10,"bh":140},{"t":12.4,"rl":90,"rh":270,"bl":10,"bh":120},{"t":12.5,"rl":80,"rh":290,"bl":50,"bh":240},{"t":12.6,"rl":70,"rh":260,"bl":90,"bh":250},{"t":12.7,"rl":90,"rh":280,"bl":10,"bh":150},{"t":12.8,"rl":60,"rh":270,"bl":28,"bh":120},{"t":12.9,"rl":80,"rh":290,"bl":10,"bh":140},{"t":13.0,"rl":70,"rh":260,"bl":22,"bh":110},{"t":13.1,"rl":90,"rh":280,"bl":10,"bh":150},{"t":13.2,"rl":60,"rh":270,"bl":26,"bh":120},{"t":13.3,"rl":80,"rh":300,"bl":10,"bh":140},{"t":13.4,"rl":70,"rh":260,"bl":20,"bh":130},{"t":13.5,"rl":90,"rh":280,"bl":10,"bh":150},{"t":13.6,"rl":60,"rh":270,"bl":30,"bh":120},{"t":13.7,"rl":80,"rh":290,"bl":10,"bh":140},{"t":13.8,"rl":70,"rh":260,"bl":24,"bh":110},{"t":13.9,"rl":90,"rh":280,"bl":10,"bh":150},{"t":14.0,"rl":60,"rh":270,"bl":20,"bh":120},{"t":14.1,"rl":80,"rh":260,"bl":10,"bh":140},{"t":14.2,"rl":70,"rh":280,"bl":10,"bh":130},{"t":14.3,"rl":100,"rh":300,"bl":150,"bh":280},{"t":14.4,"rl":180,"rh":450,"bl":300,"bh":500},{"t":14.5,"rl":400,"rh":900,"bl":700,"bh":1200},{"t":14.6,"rl":700,"rh":1300,"bl":2000,"bh":3000},{"t":14.7,"rl":900,"rh":1500,"bl":3500,"bh":4500},{"t":14.8,"rl":1100,"rh":1700,"bl":4500,"bh":5200},{"t":14.9,"rl":900,"rh":1600,"bl":4800,"bh":5000},{"t":15.0,"rl":1000,"rh":1500,"bl":4500,"bh":4800}
    ],
    "bottom": [
      {"t":0,"v":0.26},{"t":0.25,"v":0.29},{"t":0.5,"v":0.27},{"t":0.75,"v":0.31},{"t":1,"v":0.28},{"t":1.25,"v":0.3},{"t":1.5,"v":0.27},{"t":1.75,"v":0.32},{"t":2,"v":0.29},{"t":2.25,"v":0.27},{"t":2.5,"v":0.3},{"t":2.75,"v":0.28},{"t":3,"v":0.31},{"t":3.25,"v":0.33},{"t":3.5,"v":0.29},{"t":3.75,"v":0.27},{"t":4,"v":0.3},{"t":4.25,"v":0.28},{"t":4.5,"v":0.26},{"t":4.75,"v":0.29},{"t":5,"v":0.27},{"t":5.25,"v":0.3},{"t":5.5,"v":0.28},{"t":5.75,"v":0.32},{"t":6,"v":0.29},{"t":6.25,"v":0.31},{"t":6.5,"v":0.28},{"t":6.75,"v":0.3},{"t":7,"v":0.27},{"t":7.25,"v":0.29},{"t":7.5,"v":0.31},{"t":7.75,"v":0.28},{"t":8,"v":0.3},{"t":8.25,"v":0.27},{"t":8.5,"v":0.29},{"t":8.75,"v":0.28},{"t":9,"v":0.3},{"t":9.25,"v":0.27},{"t":9.5,"v":0.29},{"t":9.75,"v":0.31},{"t":10,"v":0.28},{"t":10.25,"v":0.3},{"t":10.5,"v":0.27},{"t":10.75,"v":0.29},{"t":11,"v":0.28},{"t":11.25,"v":0.3},{"t":11.5,"v":0.32},{"t":11.75,"v":0.29},{"t":12,"v":0.27},{"t":12.25,"v":0.3},{"t":12.5,"v":0.28},{"t":12.75,"v":0.29},{"t":13,"v":0.27},{"t":13.25,"v":0.3},{"t":13.5,"v":0.28},{"t":13.75,"v":0.31},{"t":14,"v":0.29},{"t":14.25,"v":0.27},{"t":14.5,"v":0.3},{"t":14.75,"v":0.32},{"t":15,"v":0.3}
    ]
  },
  "vconcat": [
    {
      "width": 584, "height": 44,
      "layer": [
        {
          "data": {"name": "xray"},
          "mark": {"type": "line", "color": "#ff00ff", "strokeWidth": 1},
          "encoding": {
            "x": {"field": "t", "type": "quantitative", "title": null, "scale": {"domain": [0, 15], "nice": false, "zero": false}, "axis": {"values": [1,2,3,4,5,6,7,8,9,10,11,12,13,14], "tickCount": 30, "labels": false, "ticks": false, "grid": true, "domain": true, "domainColor": "#111", "domainWidth": 3, "zindex": 1}},
            "y": {"field": "v", "type": "quantitative", "title": null, "scale": {"type": "log", "domain": [1e-7, 1e-3], "nice": false}, "axis": {"values": [1e-6, 1e-5, 1e-4], "tickCount": 10, "labelExpr": "datum.value > 5e-5 ? 'X' : datum.value > 5e-6 ? 'M' : 'C'", "labelFontSize": 10.5, "labelOverlap": false, "grid": true, "ticks": false, "domain": false, "labelPadding": 4}}
          }
        },
        {
          "data": {"name": "flares"},
          "mark": {"type": "point", "shape": "circle", "filled": true, "fill": "#c9d3ff", "stroke": "#1f35ff", "strokeWidth": 1.3, "size": 26, "opacity": 1},
          "encoding": {
            "x": {"field": "t", "type": "quantitative", "title": null},
            "y": {"field": "v", "type": "quantitative", "title": null}
          }
        }
      ]
    },
    {
      "width": 584, "height": 45,
      "layer": [
        {
          "data": {"name": "speed"},
          "mark": {"type": "line", "color": "#00ee00", "strokeWidth": 1.8},
          "encoding": {
            "x": {"field": "t", "type": "quantitative", "title": null, "scale": {"domain": [0, 15], "nice": false, "zero": false}, "axis": {"values": [1,2,3,4,5,6,7,8,9,10,11,12,13,14], "tickCount": 30, "labels": false, "ticks": false, "grid": true, "domain": true, "domainColor": "#111", "domainWidth": 3, "zindex": 1}},
            "y": {"field": "v", "type": "quantitative", "title": null, "scale": {"domain": [250, 850], "nice": false, "zero": false}, "axis": {"values": [400, 500, 600, 700], "tickCount": 10, "labelFontSize": 9, "labelOverlap": false, "grid": true, "ticks": false, "domain": false, "labelPadding": 2}}
          }
        },
        {
          "data": {"values": [{"s": "rt"}]},
          "mark": {"type": "text", "align": "left", "baseline": "middle", "dx": 4, "dy": 10, "fontSize": 9, "font": "DejaVu Sans", "color": "#333"},
          "encoding": {
            "x": {"datum": 15},
            "y": {"datum": 850},
            "text": {"field": "s"}
          }
        }
      ]
    },
    {
      "width": 584, "height": 45,
      "layer": [
        {
          "data": {"name": "taBands"},
          "transform": [{"filter": "datum.c == 'T'"}],
          "mark": {"type": "rect", "color": "#b5e9ff", "opacity": 0.9},
          "encoding": {
            "x": {"field": "t", "type": "quantitative", "title": null, "scale": {"domain": [0, 15], "nice": false, "zero": false}, "axis": {"values": [1,2,3,4,5,6,7,8,9,10,11,12,13,14], "tickCount": 30, "labels": false, "ticks": false, "grid": true, "domain": true, "domainColor": "#111", "domainWidth": 3, "zindex": 1}},
            "x2": {"field": "t2"},
            "y": {"field": "lo", "type": "quantitative", "title": null, "scale": {"domain": [-2, 2], "nice": false, "zero": false}, "axis": {"values": [-1, 1], "tickCount": 10, "labelExpr": "datum.value > 0 ? 'T' : 'A'", "labelFontSize": 11, "labelOverlap": false, "grid": false, "ticks": false, "domain": false, "labelPadding": 4}},
            "y2": {"field": "hi"}
          }
        },
        {
          "data": {"name": "taBands"},
          "transform": [{"filter": "datum.c == 'A'"}],
          "mark": {"type": "rect", "color": "#f9b9f3", "opacity": 0.9},
          "encoding": {
            "x": {"field": "t", "type": "quantitative", "title": null},
            "x2": {"field": "t2"},
            "y": {"field": "lo", "type": "quantitative", "title": null},
            "y2": {"field": "hi"}
          }
        },
        {
          "data": {"name": "taPts"},
          "transform": [{"filter": "datum.c == 'T'"}],
          "mark": {"type": "square", "size": 7, "color": "#a8e4fb", "opacity": 1},
          "encoding": {
            "x": {"field": "t", "type": "quantitative", "title": null},
            "y": {"field": "v", "type": "quantitative", "title": null}
          }
        },
        {
          "data": {"name": "taPts"},
          "transform": [{"filter": "datum.c == 'A'"}],
          "mark": {"type": "square", "size": 7, "color": "#f5b0ef", "opacity": 1},
          "encoding": {
            "x": {"field": "t", "type": "quantitative", "title": null},
            "y": {"field": "v", "type": "quantitative", "title": null}
          }
        },
        {
          "data": {"name": "taPts"},
          "transform": [{"filter": "datum.c == 'G'"}],
          "mark": {"type": "square", "size": 7, "color": "#c4c4c4", "opacity": 1},
          "encoding": {
            "x": {"field": "t", "type": "quantitative", "title": null},
            "y": {"field": "v", "type": "quantitative", "title": null}
          }
        },
        {
          "data": {"values": [{"v": 0}]},
          "mark": {"type": "rule", "color": "#666666", "strokeWidth": 1},
          "encoding": {"y": {"field": "v", "type": "quantitative", "title": null}}
        },
        {
          "data": {"name": "sector"},
          "mark": {"type": "line", "color": "#4f7a55", "strokeWidth": 1.3},
          "encoding": {
            "x": {"field": "t", "type": "quantitative", "title": null},
            "y": {"field": "v", "type": "quantitative", "title": null}
          }
        },
        {
          "data": {"name": "sectorSeg"},
          "transform": [{"filter": "datum.c == 'T'"}],
          "mark": {"type": "line", "color": "#5a72ea", "strokeWidth": 1.6},
          "encoding": {
            "x": {"field": "t", "type": "quantitative", "title": null},
            "y": {"field": "v", "type": "quantitative", "title": null},
            "detail": {"field": "g", "type": "nominal"}
          }
        },
        {
          "data": {"name": "sectorSeg"},
          "transform": [{"filter": "datum.c == 'A'"}],
          "mark": {"type": "line", "color": "#ea4a4a", "strokeWidth": 1.6},
          "encoding": {
            "x": {"field": "t", "type": "quantitative", "title": null},
            "y": {"field": "v", "type": "quantitative", "title": null},
            "detail": {"field": "g", "type": "nominal"}
          }
        },
        {
          "data": {"values": [{"s": "rt"}]},
          "mark": {"type": "text", "align": "left", "baseline": "middle", "dx": 4, "dy": 12, "fontSize": 9, "font": "DejaVu Sans", "color": "#333"},
          "encoding": {
            "x": {"datum": 15},
            "y": {"datum": 2},
            "text": {"field": "s"}
          }
        }
      ]
    },
    {
      "width": 584, "height": 45,
      "layer": [
        {
          "data": {"name": "bt"},
          "mark": {"type": "line", "color": "#0000ff", "strokeWidth": 1.2},
          "encoding": {
            "x": {"field": "t", "type": "quantitative", "title": null, "scale": {"domain": [0, 15], "nice": false, "zero": false}, "axis": {"values": [1,2,3,4,5,6,7,8,9,10,11,12,13,14], "tickCount": 30, "labels": false, "ticks": false, "grid": true, "domain": true, "domainColor": "#111", "domainWidth": 3, "zindex": 1}},
            "y": {"field": "v", "type": "quantitative", "title": null, "scale": {"domain": [-20, 20], "nice": false}, "axis": {"values": [-10, 0, 10], "tickCount": 10, "labelFontSize": 10, "labelOverlap": false, "grid": true, "ticks": false, "domain": false, "labelPadding": 3}}
          }
        },
        {
          "data": {"name": "bz"},
          "mark": {"type": "line", "color": "#ff0000", "strokeWidth": 1.2},
          "encoding": {
            "x": {"field": "t", "type": "quantitative", "title": null},
            "y": {"field": "v", "type": "quantitative", "title": null}
          }
        },
        {
          "data": {"values": [{"v": 0}]},
          "mark": {"type": "rule", "color": "#a00000", "strokeWidth": 1},
          "encoding": {"y": {"field": "v", "type": "quantitative", "title": null}}
        },
        {
          "data": {"values": [{"s": "rt"}]},
          "mark": {"type": "text", "align": "left", "baseline": "middle", "dx": 4, "dy": 9, "fontSize": 9, "font": "DejaVu Sans", "color": "#333"},
          "encoding": {
            "x": {"datum": 15},
            "y": {"datum": 20},
            "text": {"field": "s"}
          }
        }
      ]
    },
    {
      "width": 584, "height": 45,
      "layer": [
        {
          "data": {"name": "dst"},
          "mark": {"type": "line", "color": "#ee00ee", "strokeWidth": 1},
          "encoding": {
            "x": {"field": "t", "type": "quantitative", "title": null, "scale": {"domain": [0, 15], "nice": false, "zero": false}, "axis": {"values": [1,2,3,4,5,6,7,8,9,10,11,12,13,14], "tickCount": 30, "labels": false, "ticks": false, "grid": true, "domain": true, "domainColor": "#111", "domainWidth": 3, "zindex": 1}},
            "y": {"field": "v", "type": "quantitative", "title": null, "scale": {"domain": [-100, 50], "nice": false}, "axis": {"values": [-50, 0], "tickCount": 10, "labelFontSize": 10.5, "labelOverlap": false, "grid": true, "ticks": false, "domain": false, "labelPadding": 3}}
          }
        },
        {
          "data": {"values": [{"v": 0}]},
          "mark": {"type": "rule", "color": "#c46a6a", "strokeWidth": 2.5, "opacity": 0.8},
          "encoding": {"y": {"field": "v", "type": "quantitative", "title": null}}
        }
      ]
    },
    {
      "width": 584, "height": 45,
      "layer": [
        {
          "data": {"name": "cyanA"},
          "mark": {"type": "line", "color": "#22eeee", "strokeWidth": 1},
          "encoding": {
            "x": {"field": "t", "type": "quantitative", "title": null, "scale": {"domain": [0, 15], "nice": false, "zero": false}, "axis": {"values": [1,2,3,4,5,6,7,8,9,10,11,12,13,14], "tickCount": 30, "labels": false, "ticks": false, "grid": true, "domain": true, "domainColor": "#111", "domainWidth": 3, "zindex": 1}},
            "y": {"field": "v", "type": "quantitative", "title": null, "scale": {"domain": [0, 60], "nice": false}, "axis": {"values": [20, 40], "tickCount": 10, "labelFontSize": 10.5, "labelOverlap": false, "grid": true, "ticks": false, "domain": false, "labelPadding": 3}}
          }
        },
        {
          "data": {"name": "cyanB"},
          "mark": {"type": "line", "color": "#22eeee", "strokeWidth": 1},
          "encoding": {
            "x": {"field": "t", "type": "quantitative", "title": null},
            "y": {"field": "v", "type": "quantitative", "title": null}
          }
        }
      ]
    },
    {
      "width": 584, "height": 45,
      "layer": [
        {
          "data": {"name": "proton"},
          "mark": {"type": "line", "color": "#9b30cc", "strokeWidth": 1},
          "encoding": {
            "x": {"field": "t", "type": "quantitative", "title": null, "scale": {"domain": [0, 15], "nice": false, "zero": false}, "axis": {"values": [1,2,3,4,5,6,7,8,9,10,11,12,13,14], "tickCount": 30, "labels": false, "ticks": false, "grid": true, "domain": true, "domainColor": "#111", "domainWidth": 3, "zindex": 1}},
            "y": {"field": "v", "type": "quantitative", "title": null, "scale": {"type": "log", "domain": [1e5, 5e7], "nice": false}, "axis": {"values": [1e6, 1e7], "tickCount": 10, "labelExpr": "'10' + ['⁰','¹','²','³','⁴','⁵','⁶','⁷'][round(log(datum.value)/LN10)]", "labelOverlap": false, "grid": true, "ticks": false, "domain": false, "labelPadding": 3, "labelFontSize": 11}}
          }
        },
        {
          "data": {"values": [{"v": 1e6}, {"v": 1e7}]},
          "mark": {"type": "rule", "color": "#cc1111", "strokeWidth": 1.2},
          "encoding": {"y": {"field": "v", "type": "quantitative", "title": null}}
        }
      ]
    },
    {
      "width": 584, "height": 45,
      "layer": [
        {
          "data": {"name": "flux"},
          "mark": {"type": "area", "color": "#0000ff", "opacity": 1},
          "encoding": {
            "x": {"field": "t", "type": "quantitative", "title": null, "scale": {"domain": [0, 15], "nice": false, "zero": false}, "axis": {"values": [1,2,3,4,5,6,7,8,9,10,11,12,13,14], "tickCount": 30, "labels": false, "ticks": false, "grid": true, "domain": true, "domainColor": "#111", "domainWidth": 3, "zindex": 1}},
            "y": {"field": "bl", "type": "quantitative", "title": null, "scale": {"type": "log", "domain": [10, 1e5], "nice": false}, "axis": {"values": [100, 1000, 10000], "tickCount": 10, "labelExpr": "'10' + ['⁰','¹','²','³','⁴','⁵','⁶','⁷'][round(log(datum.value)/LN10)]", "labelOverlap": false, "grid": true, "ticks": false, "domain": false, "labelPadding": 3, "labelFontSize": 10}},
            "y2": {"field": "bh"}
          }
        },
        {
          "data": {"name": "flux"},
          "mark": {"type": "area", "color": "#ff0000", "opacity": 1},
          "encoding": {
            "x": {"field": "t", "type": "quantitative", "title": null},
            "y": {"field": "rl", "type": "quantitative", "title": null},
            "y2": {"field": "rh"}
          }
        },
        {
          "data": {"values": [{"v": 10000}]},
          "mark": {"type": "rule", "color": "#ee2222", "strokeWidth": 1.5, "strokeDash": [9, 5]},
          "encoding": {"y": {"field": "v", "type": "quantitative", "title": null}}
        },
        {
          "data": {"values": [{"s": "rt"}]},
          "mark": {"type": "text", "align": "left", "baseline": "middle", "dx": 4, "dy": 10, "fontSize": 9, "font": "DejaVu Sans", "color": "#333"},
          "encoding": {
            "x": {"datum": 15},
            "y": {"datum": 100000},
            "text": {"field": "s"}
          }
        }
      ]
    },
    {
      "width": 584, "height": 45,
      "layer": [
        {
          "data": {"name": "bottom"},
          "mark": {"type": "line", "color": "#1f3cff", "strokeWidth": 1.6},
          "encoding": {
            "x": {"field": "t", "type": "quantitative", "title": "2026", "scale": {"domain": [0, 15], "nice": false, "zero": false}, "axis": {"values": [0,1,2,3,4,5,6,7,8,9,10,11,12,13,14], "tickCount": 30, "labelExpr": "'5/' + (datum.value < 8 ? ' ' : '') + (datum.value + 2)", "labelOffset": 19.45, "labelPadding": 4, "labelFontSize": 11, "labelBaseline": "top", "labelAlign": "center", "labelFlush": false, "ticks": false, "grid": true, "domain": true, "domainColor": "#111", "domainWidth": 2, "titleX": -17, "titleY": 4, "titleBaseline": "top", "titleAlign": "center", "titleFontWeight": "normal", "titleFontSize": 11, "zindex": 1}},
            "y": {"field": "v", "type": "quantitative", "title": null, "scale": {"type": "log", "domain": [0.2, 1e5], "nice": false}, "axis": {"values": [1, 100, 10000], "tickCount": 10, "labelExpr": "'10' + ['⁰','¹','²','³','⁴','⁵','⁶','⁷'][round(log(datum.value)/LN10)]", "labelOverlap": false, "grid": true, "ticks": false, "domain": false, "labelPadding": 3, "labelFontSize": 11}}
          }
        }
      ]
    }
  ],
  "spacing": 0,
  "bounds": "flush"
}
